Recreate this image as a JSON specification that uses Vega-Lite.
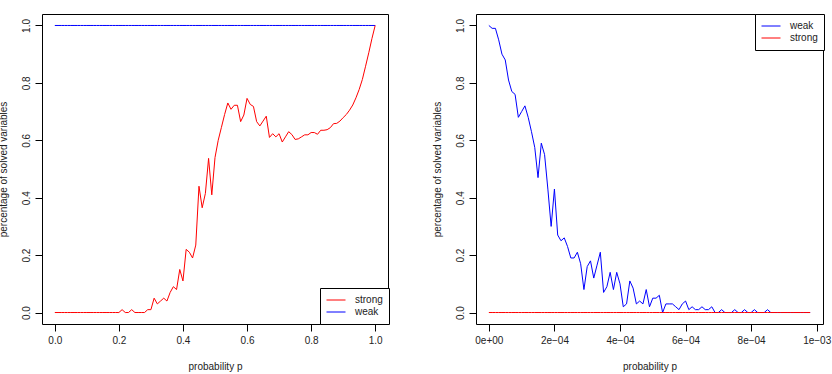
{
  "$schema": "https://vega.github.io/schema/vega-lite/v6.json",
  "background": "white",
  "padding": {"left": -3, "top": 13, "right": 1, "bottom": 0},
  "config": {
    "font": "Liberation Sans",
    "view": {"stroke": "black", "strokeWidth": 1},
    "axis": {
      "grid": false,
      "domain": false,
      "tickColor": "black",
      "tickSize": 7,
      "labelFontSize": 10,
      "titleFontSize": 10,
      "titleFontWeight": "normal",
      "labelColor": "#222",
      "titleColor": "#222",
      "labelPadding": 4
    },
    "axisX": {"titlePadding": 16},
    "axisY": {"labelAngle": 270, "labelAlign": "center", "labelBaseline": "bottom", "titlePadding": 13},
    "legend": {
      "orient": "none",
      "strokeColor": "black",
      "fillColor": "white",
      "padding": 6,
      "symbolType": "stroke",
      "symbolSize": 361,
      "symbolStrokeWidth": 1,
      "clipHeight": 12,
      "labelFontSize": 10,
      "labelColor": "#222",
      "labelOffset": 9,
      "rowPadding": 0
    }
  },
  "datasets": {
    "uniform": [
      {"p": 0.00, "strong": 0, "weak": 1}, {"p": 0.01, "strong": 0, "weak": 1}, {"p": 0.02, "strong": 0, "weak": 1},
      {"p": 0.03, "strong": 0, "weak": 1}, {"p": 0.04, "strong": 0, "weak": 1}, {"p": 0.05, "strong": 0, "weak": 1},
      {"p": 0.06, "strong": 0, "weak": 1}, {"p": 0.07, "strong": 0, "weak": 1}, {"p": 0.08, "strong": 0, "weak": 1},
      {"p": 0.09, "strong": 0, "weak": 1}, {"p": 0.10, "strong": 0, "weak": 1}, {"p": 0.11, "strong": 0, "weak": 1},
      {"p": 0.12, "strong": 0, "weak": 1}, {"p": 0.13, "strong": 0, "weak": 1}, {"p": 0.14, "strong": 0, "weak": 1},
      {"p": 0.15, "strong": 0, "weak": 1}, {"p": 0.16, "strong": 0, "weak": 1}, {"p": 0.17, "strong": 0, "weak": 1},
      {"p": 0.18, "strong": 0, "weak": 1}, {"p": 0.19, "strong": 0, "weak": 1}, {"p": 0.20, "strong": 0, "weak": 1},
      {"p": 0.21, "strong": 0.01, "weak": 1}, {"p": 0.22, "strong": 0, "weak": 1}, {"p": 0.23, "strong": 0, "weak": 1},
      {"p": 0.24, "strong": 0.01, "weak": 1}, {"p": 0.25, "strong": 0, "weak": 1}, {"p": 0.26, "strong": 0, "weak": 1},
      {"p": 0.27, "strong": 0, "weak": 1}, {"p": 0.28, "strong": 0, "weak": 1}, {"p": 0.29, "strong": 0.01, "weak": 1},
      {"p": 0.30, "strong": 0.01, "weak": 1}, {"p": 0.31, "strong": 0.05, "weak": 1}, {"p": 0.32, "strong": 0.03, "weak": 1},
      {"p": 0.33, "strong": 0.04, "weak": 1}, {"p": 0.34, "strong": 0.05, "weak": 1}, {"p": 0.35, "strong": 0.04, "weak": 1},
      {"p": 0.36, "strong": 0.07, "weak": 1}, {"p": 0.37, "strong": 0.09, "weak": 1}, {"p": 0.38, "strong": 0.08, "weak": 1},
      {"p": 0.39, "strong": 0.15, "weak": 1}, {"p": 0.40, "strong": 0.11, "weak": 1}, {"p": 0.41, "strong": 0.22, "weak": 1},
      {"p": 0.42, "strong": 0.21, "weak": 1}, {"p": 0.43, "strong": 0.19, "weak": 1}, {"p": 0.44, "strong": 0.235, "weak": 1},
      {"p": 0.45, "strong": 0.44, "weak": 1}, {"p": 0.46, "strong": 0.365, "weak": 1}, {"p": 0.47, "strong": 0.415, "weak": 1},
      {"p": 0.48, "strong": 0.537, "weak": 1}, {"p": 0.49, "strong": 0.41, "weak": 1}, {"p": 0.50, "strong": 0.54, "weak": 1},
      {"p": 0.51, "strong": 0.60, "weak": 1}, {"p": 0.52, "strong": 0.645, "weak": 1}, {"p": 0.53, "strong": 0.69, "weak": 1},
      {"p": 0.54, "strong": 0.73, "weak": 1}, {"p": 0.55, "strong": 0.708, "weak": 1}, {"p": 0.56, "strong": 0.722, "weak": 1},
      {"p": 0.57, "strong": 0.722, "weak": 1}, {"p": 0.58, "strong": 0.665, "weak": 1}, {"p": 0.59, "strong": 0.688, "weak": 1},
      {"p": 0.60, "strong": 0.746, "weak": 1}, {"p": 0.61, "strong": 0.725, "weak": 1}, {"p": 0.62, "strong": 0.718, "weak": 1},
      {"p": 0.63, "strong": 0.665, "weak": 1}, {"p": 0.64, "strong": 0.65, "weak": 1}, {"p": 0.65, "strong": 0.667, "weak": 1},
      {"p": 0.66, "strong": 0.684, "weak": 1}, {"p": 0.67, "strong": 0.61, "weak": 1}, {"p": 0.68, "strong": 0.623, "weak": 1},
      {"p": 0.69, "strong": 0.612, "weak": 1}, {"p": 0.70, "strong": 0.623, "weak": 1}, {"p": 0.71, "strong": 0.594, "weak": 1},
      {"p": 0.72, "strong": 0.612, "weak": 1}, {"p": 0.73, "strong": 0.63, "weak": 1}, {"p": 0.74, "strong": 0.62, "weak": 1},
      {"p": 0.75, "strong": 0.603, "weak": 1}, {"p": 0.76, "strong": 0.605, "weak": 1}, {"p": 0.77, "strong": 0.612, "weak": 1},
      {"p": 0.78, "strong": 0.619, "weak": 1}, {"p": 0.79, "strong": 0.619, "weak": 1}, {"p": 0.80, "strong": 0.627, "weak": 1},
      {"p": 0.81, "strong": 0.627, "weak": 1}, {"p": 0.82, "strong": 0.621, "weak": 1}, {"p": 0.83, "strong": 0.635, "weak": 1},
      {"p": 0.84, "strong": 0.635, "weak": 1}, {"p": 0.85, "strong": 0.637, "weak": 1}, {"p": 0.86, "strong": 0.644, "weak": 1},
      {"p": 0.87, "strong": 0.658, "weak": 1}, {"p": 0.88, "strong": 0.659, "weak": 1}, {"p": 0.89, "strong": 0.667, "weak": 1},
      {"p": 0.90, "strong": 0.679, "weak": 1}, {"p": 0.91, "strong": 0.69, "weak": 1}, {"p": 0.92, "strong": 0.705, "weak": 1},
      {"p": 0.93, "strong": 0.723, "weak": 1}, {"p": 0.94, "strong": 0.748, "weak": 1}, {"p": 0.95, "strong": 0.777, "weak": 1},
      {"p": 0.96, "strong": 0.812, "weak": 1}, {"p": 0.97, "strong": 0.858, "weak": 1}, {"p": 0.98, "strong": 0.905, "weak": 1},
      {"p": 0.99, "strong": 0.955, "weak": 1}, {"p": 1.00, "strong": 1.0, "weak": 1}
    ],
    "small": [
      {"p": 0, "weak": 1.0, "strong": 0}, {"p": 1e-5, "weak": 0.99, "strong": 0}, {"p": 2e-5, "weak": 0.99, "strong": 0},
      {"p": 3e-5, "weak": 0.95, "strong": 0}, {"p": 4e-5, "weak": 0.90, "strong": 0}, {"p": 5e-5, "weak": 0.88, "strong": 0},
      {"p": 6e-5, "weak": 0.81, "strong": 0}, {"p": 7e-5, "weak": 0.77, "strong": 0}, {"p": 8e-5, "weak": 0.76, "strong": 0},
      {"p": 9e-5, "weak": 0.68, "strong": 0}, {"p": 1.0e-4, "weak": 0.70, "strong": 0}, {"p": 1.1e-4, "weak": 0.72, "strong": 0},
      {"p": 1.2e-4, "weak": 0.68, "strong": 0}, {"p": 1.3e-4, "weak": 0.63, "strong": 0}, {"p": 1.4e-4, "weak": 0.575, "strong": 0},
      {"p": 1.5e-4, "weak": 0.47, "strong": 0}, {"p": 1.6e-4, "weak": 0.59, "strong": 0}, {"p": 1.7e-4, "weak": 0.55, "strong": 0},
      {"p": 1.8e-4, "weak": 0.43, "strong": 0}, {"p": 1.9e-4, "weak": 0.30, "strong": 0}, {"p": 2.0e-4, "weak": 0.43, "strong": 0},
      {"p": 2.1e-4, "weak": 0.27, "strong": 0}, {"p": 2.2e-4, "weak": 0.25, "strong": 0}, {"p": 2.3e-4, "weak": 0.26, "strong": 0},
      {"p": 2.4e-4, "weak": 0.23, "strong": 0}, {"p": 2.5e-4, "weak": 0.19, "strong": 0}, {"p": 2.6e-4, "weak": 0.19, "strong": 0},
      {"p": 2.7e-4, "weak": 0.21, "strong": 0}, {"p": 2.8e-4, "weak": 0.17, "strong": 0}, {"p": 2.9e-4, "weak": 0.08, "strong": 0},
      {"p": 3.0e-4, "weak": 0.16, "strong": 0}, {"p": 3.1e-4, "weak": 0.18, "strong": 0}, {"p": 3.2e-4, "weak": 0.12, "strong": 0},
      {"p": 3.3e-4, "weak": 0.165, "strong": 0}, {"p": 3.4e-4, "weak": 0.21, "strong": 0}, {"p": 3.5e-4, "weak": 0.07, "strong": 0},
      {"p": 3.6e-4, "weak": 0.09, "strong": 0}, {"p": 3.7e-4, "weak": 0.14, "strong": 0}, {"p": 3.8e-4, "weak": 0.08, "strong": 0},
      {"p": 3.9e-4, "weak": 0.14, "strong": 0}, {"p": 4.0e-4, "weak": 0.10, "strong": 0}, {"p": 4.1e-4, "weak": 0.02, "strong": 0},
      {"p": 4.2e-4, "weak": 0.03, "strong": 0}, {"p": 4.3e-4, "weak": 0.11, "strong": 0}, {"p": 4.4e-4, "weak": 0.085, "strong": 0},
      {"p": 4.5e-4, "weak": 0.03, "strong": 0}, {"p": 4.6e-4, "weak": 0.04, "strong": 0}, {"p": 4.7e-4, "weak": 0.03, "strong": 0},
      {"p": 4.8e-4, "weak": 0.08, "strong": 0}, {"p": 4.9e-4, "weak": 0.02, "strong": 0}, {"p": 5.0e-4, "weak": 0.05, "strong": 0},
      {"p": 5.1e-4, "weak": 0.05, "strong": 0}, {"p": 5.2e-4, "weak": 0.06, "strong": 0}, {"p": 5.3e-4, "weak": 0.0, "strong": 0},
      {"p": 5.4e-4, "weak": 0.03, "strong": 0}, {"p": 5.5e-4, "weak": 0.03, "strong": 0}, {"p": 5.6e-4, "weak": 0.03, "strong": 0},
      {"p": 5.7e-4, "weak": 0.02, "strong": 0}, {"p": 5.8e-4, "weak": 0.01, "strong": 0}, {"p": 5.9e-4, "weak": 0.03, "strong": 0},
      {"p": 6.0e-4, "weak": 0.04, "strong": 0}, {"p": 6.1e-4, "weak": 0.01, "strong": 0}, {"p": 6.2e-4, "weak": 0.02, "strong": 0},
      {"p": 6.3e-4, "weak": 0.01, "strong": 0}, {"p": 6.4e-4, "weak": 0.01, "strong": 0}, {"p": 6.5e-4, "weak": 0.02, "strong": 0},
      {"p": 6.6e-4, "weak": 0.01, "strong": 0}, {"p": 6.7e-4, "weak": 0.01, "strong": 0}, {"p": 6.8e-4, "weak": 0.02, "strong": 0},
      {"p": 6.9e-4, "weak": 0, "strong": 0}, {"p": 7.0e-4, "weak": 0, "strong": 0}, {"p": 7.1e-4, "weak": 0.01, "strong": 0},
      {"p": 7.2e-4, "weak": 0, "strong": 0}, {"p": 7.3e-4, "weak": 0, "strong": 0}, {"p": 7.4e-4, "weak": 0, "strong": 0},
      {"p": 7.5e-4, "weak": 0.01, "strong": 0}, {"p": 7.6e-4, "weak": 0, "strong": 0}, {"p": 7.7e-4, "weak": 0, "strong": 0},
      {"p": 7.8e-4, "weak": 0.01, "strong": 0}, {"p": 7.9e-4, "weak": 0, "strong": 0}, {"p": 8.0e-4, "weak": 0, "strong": 0},
      {"p": 8.1e-4, "weak": 0.01, "strong": 0}, {"p": 8.2e-4, "weak": 0, "strong": 0}, {"p": 8.3e-4, "weak": 0, "strong": 0},
      {"p": 8.4e-4, "weak": 0, "strong": 0}, {"p": 8.5e-4, "weak": 0.01, "strong": 0}, {"p": 8.6e-4, "weak": 0, "strong": 0},
      {"p": 8.7e-4, "weak": 0, "strong": 0}, {"p": 8.8e-4, "weak": 0, "strong": 0}, {"p": 8.9e-4, "weak": 0, "strong": 0},
      {"p": 9.0e-4, "weak": 0, "strong": 0}, {"p": 9.1e-4, "weak": 0, "strong": 0}, {"p": 9.2e-4, "weak": 0, "strong": 0},
      {"p": 9.3e-4, "weak": 0, "strong": 0}, {"p": 9.4e-4, "weak": 0, "strong": 0}, {"p": 9.5e-4, "weak": 0, "strong": 0},
      {"p": 9.6e-4, "weak": 0, "strong": 0}, {"p": 9.7e-4, "weak": 0, "strong": 0}, {"p": 9.8e-4, "weak": 0, "strong": 0}
    ]
  },
  "hconcat": [
    {
      "width": 346,
      "height": 310,
      "data": {"name": "uniform"},
      "transform": [{"fold": ["weak", "strong"], "as": ["series", "value"]}],
      "mark": {"type": "line", "strokeWidth": 1, "clip": true},
      "encoding": {
        "x": {
          "field": "p", "type": "quantitative",
          "scale": {"domain": [-0.04, 1.04], "nice": false, "zero": false},
          "axis": {"values": [0, 0.2, 0.4, 0.6, 0.8, 1], "format": ".1f", "title": "probability p"}
        },
        "y": {
          "field": "value", "type": "quantitative",
          "scale": {"domain": [-0.04, 1.04], "nice": false, "zero": false},
          "axis": {"values": [0, 0.2, 0.4, 0.6, 0.8, 1], "format": ".1f", "title": "percentage of solved variables"}
        },
        "color": {
          "field": "series", "type": "nominal",
          "scale": {"domain": ["strong", "weak"], "range": ["#ff0000", "#0000ff"]},
          "legend": {"title": null, "legendX": 278, "legendY": 274}
        }
      }
    },
    {
      "width": 347,
      "height": 310,
      "data": {"name": "small"},
      "transform": [{"fold": ["weak", "strong"], "as": ["series", "value"]}],
      "mark": {"type": "line", "strokeWidth": 1, "clip": true},
      "encoding": {
        "x": {
          "field": "p", "type": "quantitative",
          "scale": {"domain": [-0.0000392, 0.0010192], "nice": false, "zero": false},
          "axis": {
            "values": [0, 0.0002, 0.0004, 0.0006, 0.0008, 0.001],
            "labelExpr": "datum.value == 0 ? '0e+00' : replace(format(datum.value, '.0e'), 'e-', 'e−0')",
            "title": "probability p"
          }
        },
        "y": {
          "field": "value", "type": "quantitative",
          "scale": {"domain": [-0.04, 1.04], "nice": false, "zero": false},
          "axis": {"values": [0, 0.2, 0.4, 0.6, 0.8, 1], "format": ".1f", "title": "percentage of solved variables"}
        },
        "color": {
          "field": "series", "type": "nominal",
          "scale": {"domain": ["weak", "strong"], "range": ["#0000ff", "#ff0000"]},
          "legend": {"title": null, "legendX": 279, "legendY": 0}
        }
      }
    }
  ],
  "spacing": 41,
  "resolve": {"scale": {"color": "independent"}, "legend": {"color": "independent"}}
}
